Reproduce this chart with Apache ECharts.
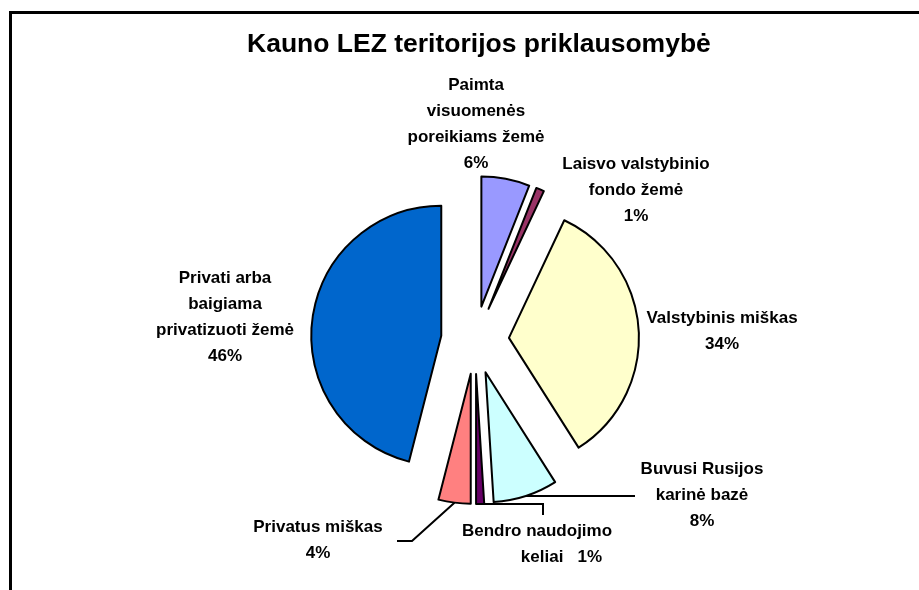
<!DOCTYPE html>
<html>
<head>
<meta charset="utf-8">
<script src="https://cdn.jsdelivr.net/npm/echarts@6/dist/echarts.min.js"></script>
<style>
  html, body { margin: 0; padding: 0; background: #fff; }
  #chart { width: 919px; height: 590px; }
</style>
</head>
<body>
<div id="chart"></div>
<script>
// slice names (as wrapped in the original chart) and their shares, clockwise from 12 o'clock
const names = [
  "Paimta\nvisuomenės\nporeikiams žemė",
  "Laisvo valstybinio\nfondo žemė",
  "Valstybinis miškas",
  "Buvusi Rusijos\nkarinė bazė",
  "Bendro naudojimo\nkeliai",
  "Privatus miškas",
  "Privati arba\nbaigiama\nprivatizuoti žemė"
];
const shares = [6, 1, 34, 8, 1, 4, 46];
const colors = ["#9999FF", "#993366", "#FFFFCC", "#CCFFFF", "#660066", "#FF8080", "#0066CC"];

// where each label block sits, and where leader lines bend / end
const labelPos = [[476, 124], [636, 190], [722, 331], [702, 495], [537, 544], [318, 540], [225, 317]];
const leaders = {
  3: [[600, null], [635, null]],
  4: [[543, null], [543, 515]],
  5: [[412, 541], [397, 541]]
};

const center = [475, 340];
const radius = 130;
const explode = 34;
const total = shares.reduce((a, b) => a + b, 0);
const midAngles = [];
let cum = 0;
shares.forEach(v => {
  midAngles.push(2 * Math.PI * (cum + v / 2) / total);
  cum += v;
});

const chart = echarts.init(document.getElementById("chart"));
const font = "'Liberation Sans', Arial, sans-serif";
const txt = { fontFamily: font, fontSize: 17, fontWeight: "bold", color: "#000", lineHeight: 26 };

chart.setOption({
  animation: false,
  backgroundColor: "#fff",
  title: {
    text: "Kauno LEZ teritorijos priklausomybė",
    left: 242,
    top: 26,
    textStyle: { fontFamily: font, fontSize: 26.5, fontWeight: "bold", color: "#000" }
  },
  graphic: [{
    type: "rect",
    silent: true,
    shape: { x: 10.5, y: 12.5, width: 1000, height: 1000 },
    style: { fill: "none", stroke: "#000", lineWidth: 3 }
  }],
  series: [
    {
      // the exploded slices
      type: "pie",
      center: center,
      radius: radius,
      startAngle: 90,
      clockwise: true,
      selectedMode: "multiple",
      selectedOffset: explode,
      emphasis: { disabled: true },
      itemStyle: { borderColor: "#000", borderWidth: 2 },
      select: { itemStyle: { borderColor: "#000", borderWidth: 2 } },
      label: { show: false },
      labelLine: { show: false },
      data: names.map((n, i) => ({
        name: n,
        value: shares[i],
        selected: true,
        itemStyle: { color: colors[i] }
      }))
    },
    {
      // same slices, invisible, only to carry the labels
      type: "pie",
      center: center,
      radius: radius,
      startAngle: 90,
      clockwise: true,
      silent: true,
      selectedMode: false,
      avoidLabelOverlap: false,
      emphasis: { disabled: true },
      itemStyle: { color: "rgba(0,0,0,0)", borderWidth: 0 },
      label: Object.assign({
        show: true,
        position: "outside",
        align: "center",
        formatter: function (p) {
          if (p.dataIndex === 4) {
            const parts = p.name.split("\n");
            return "{a|" + parts[0] + "}\n{b|" + parts[1] + "   " + p.percent + "%}";
          }
          return p.name + "\n" + p.percent + "%";
        },
        rich: {
          a: Object.assign({}, txt),
          b: Object.assign({ padding: [0, 0, 0, 49] }, txt)
        }
      }, txt),
      labelLine: { show: false, lineStyle: { color: "#000", width: 2 } },
      labelLayout: function (p) {
        const pos = labelPos[p.dataIndex];
        const out = { x: pos[0], y: pos[1], align: "center", verticalAlign: "middle" };
        const lead = leaders[p.dataIndex];
        if (lead && p.labelLinePoints) {
          const th = midAngles[p.dataIndex];
          const p0 = p.labelLinePoints[0];
          const start = [p0[0] + explode * Math.sin(th), p0[1] - explode * Math.cos(th)];
          const pts = [start];
          lead.forEach(q => pts.push([q[0], q[1] == null ? start[1] : q[1]]));
          out.labelLinePoints = pts;
        }
        return out;
      },
      data: names.map((n, i) => ({
        name: n,
        value: shares[i],
        labelLine: { show: leaders[i] != null }
      }))
    }
  ]
});
</script>
</body>
</html>
